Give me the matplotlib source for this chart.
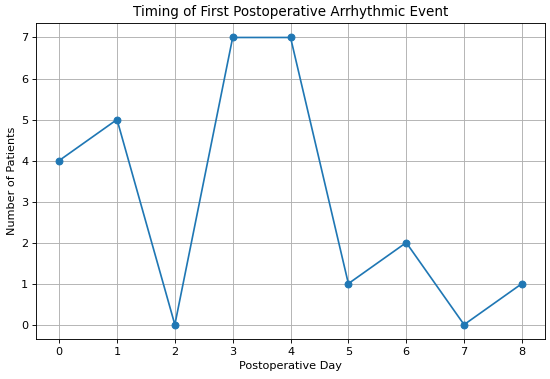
import matplotlib
matplotlib.use("Agg")
import matplotlib.pyplot as plt

days = [0, 1, 2, 3, 4, 5, 6, 7, 8]
patients = [4, 5, 0, 7, 7, 1, 2, 0, 1]

DPI = 81
fig, ax = plt.subplots(figsize=(550 / DPI, 379 / DPI), dpi=DPI)
ax.plot(days, patients, marker='o', color='#1f77b4')
ax.set_title("Timing of First Postoperative Arrhythmic Event")
ax.set_xlabel("Postoperative Day")
ax.set_ylabel("Number of Patients")
ax.set_xticks(days)
ax.grid(True)
fig.subplots_adjust(left=0.0655, right=0.991, top=0.939, bottom=0.1055)
fig.savefig("out.png", dpi=DPI)
